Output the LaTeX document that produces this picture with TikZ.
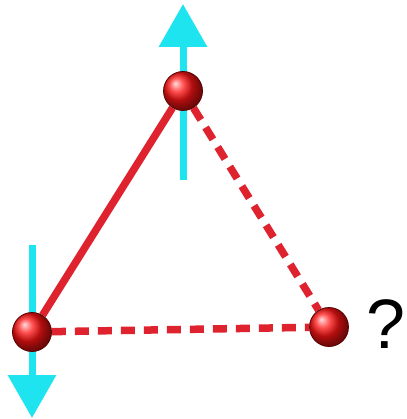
\documentclass[tikz,border=0pt]{standalone}
\usepackage{fontspec}
\setmainfont{Liberation Sans}
\usepackage{tikz}
\usetikzlibrary{arrows.meta,shadings,backgrounds}
\definecolor{bondred}{RGB}{222,34,46}
\definecolor{spincyan}{RGB}{30,228,240}
\definecolor{ballred}{RGB}{255,20,20}

\begin{document}
\begin{tikzpicture}[x=1pt,y=-1pt,>={Triangle[length=43pt,width=47pt]},
  ball/.style={circle,minimum size=39pt,inner sep=0pt,shading=ball,ball color=ballred,draw=red!35!black,line width=0.8pt},
  bond/.style={bondred,line width=7.5pt},
  frust/.style={bond,dash pattern=on 14pt off 9pt},
  spin/.style={->,spincyan,line width=7pt}]
  \useasboundingbox (0,0) rectangle (406,419);
  \node[ball] (t) at (183,91) {};
  \node[ball] (l) at (32,332) {};
  \node[ball] (r) at (329,327) {};
  \node[font=\fontsize{70}{70}\selectfont,inner sep=0pt] (q) at (386,324) {?};
  \coordinate (ua) at (183,180);
  \coordinate (ub) at (183,4);
  \coordinate (da) at (32,245);
  \coordinate (db) at (32,418);
  \begin{pgfonlayer}{background}
    \draw[spin] (ua) -- (ub);
    \draw[spin] (da) -- (db);
    \draw[bond] (l) -- (t);
    \draw[frust] (t) -- (r);
    \draw[frust] (l) -- (r);
  \end{pgfonlayer}
\end{tikzpicture}
\end{document}
